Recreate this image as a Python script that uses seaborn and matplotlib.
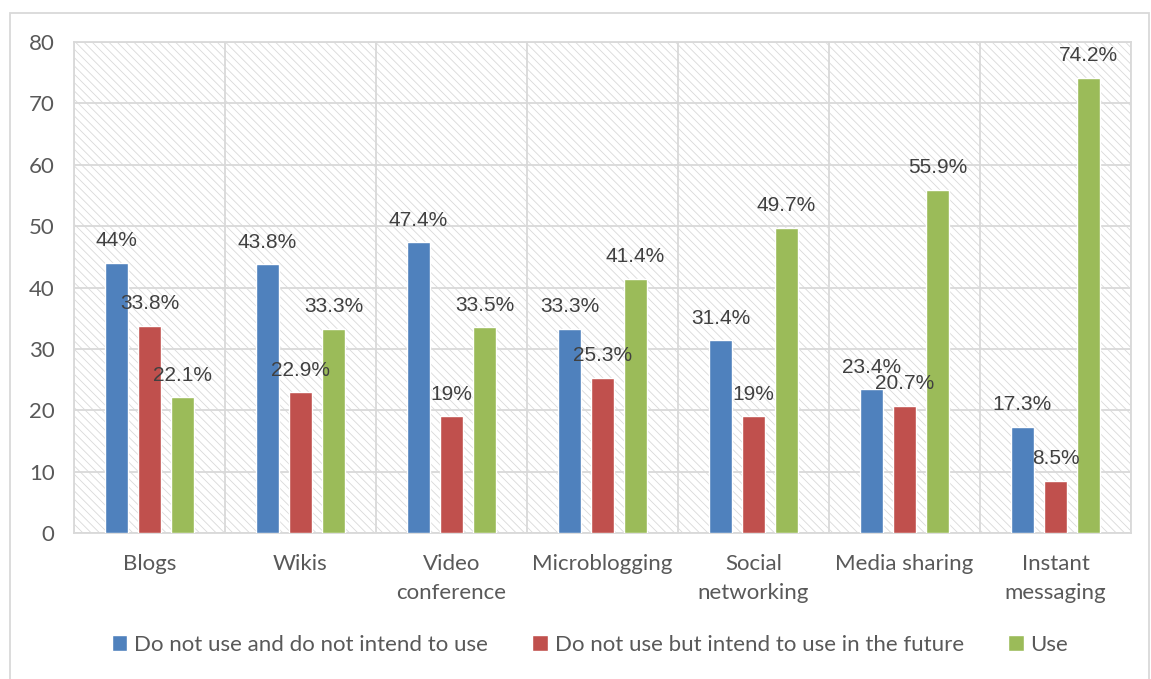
import matplotlib
matplotlib.use("Agg")
import matplotlib.pyplot as plt
from matplotlib.patches import Rectangle
import pandas as pd
import seaborn as sns

categories = ["Blogs", "Wikis", "Video\nconference", "Microblogging",
              "Social\nnetworking", "Media sharing", "Instant\nmessaging"]
series = ["Do not use and do not intend to use",
          "Do not use but intend to use in the future",
          "Use"]
not_intend = [44.0, 43.8, 47.4, 33.3, 31.4, 23.4, 17.3]
intend_future = [33.8, 22.9, 19.0, 25.3, 19.0, 20.7, 8.5]
use = [22.1, 33.3, 33.5, 41.4, 49.7, 55.9, 74.2]
y_ticks = [0, 10, 20, 30, 40, 50, 60, 70, 80]

colors = ["#4F81BD", "#C0504D", "#9BBB59"]
grid_col = "#D9D9D9"
text_col = "#595959"

rows = []
for name, vals in zip(series, [not_intend, intend_future, use]):
    for cat, v in zip(categories, vals):
        rows.append({"category": cat, "series": name, "value": v})
df = pd.DataFrame(rows)

sns.set_theme(style="white")
plt.rcParams["font.family"] = ["Lato", "DejaVu Sans"]
plt.rcParams["hatch.linewidth"] = 0.6

fig = plt.figure(figsize=(11.51, 6.79), dpi=100)
ax = fig.add_axes([74 / 1151, 1 - 533 / 679, (1131 - 74) / 1151, (533 - 42) / 679])

# hatched plot-area background
ax.add_patch(Rectangle((0, 0), 1, 1, transform=ax.transAxes, facecolor="white",
                       edgecolor="#D9D9D9", hatch="\\\\\\\\", linewidth=0, zorder=0))

sns.barplot(data=df, x="category", y="value", hue="series", order=categories,
            hue_order=series, palette=colors, width=0.657, gap=0.305,
            saturation=1, ax=ax, zorder=3, legend=True)

for container, vals in zip(ax.containers, [not_intend, intend_future, use]):
    ax.bar_label(container, labels=[f"{v:g}%" for v in vals], padding=9,
                 fontsize=15, color="#404040", family="Liberation Sans", zorder=5)

ax.set_ylim(0, 80)
ax.set_xlim(-0.5, len(categories) - 0.5)
ax.set_yticks(y_ticks)
ax.set_xlabel("")
ax.set_ylabel("")

for y in y_ticks:
    ax.axhline(y, color=grid_col, lw=1.3, zorder=1)
for x in range(len(categories) + 1):
    ax.axvline(x - 0.5, color=grid_col, lw=1.3, zorder=1)
for s in ax.spines.values():
    s.set_color(grid_col)
    s.set_linewidth(1.3)

ax.tick_params(axis="both", length=0, labelsize=16, colors=text_col)
ax.tick_params(axis="y", pad=14)
ax.tick_params(axis="x", pad=15)
for t in ax.get_xticklabels():
    t.set_linespacing(1.6)
ax.set_facecolor("white")

handles, labels = ax.get_legend_handles_labels()
ax.get_legend().remove()
fig.legend(handles, labels, loc="center", bbox_to_anchor=(590 / 1151, 1 - 645 / 679),
           ncol=3, frameon=False, fontsize=16, handlelength=0.7, handleheight=0.7,
           handletextpad=0.3, columnspacing=2.0, labelcolor=text_col)

# chart frame
fig.patches.append(Rectangle((10 / 1151, -0.01), (1149 - 10) / 1151, 1 - 13 / 679 + 0.01,
                             transform=fig.transFigure, fill=False,
                             edgecolor=grid_col, linewidth=1.3))

fig.savefig("out.png", dpi=100, facecolor="white")
